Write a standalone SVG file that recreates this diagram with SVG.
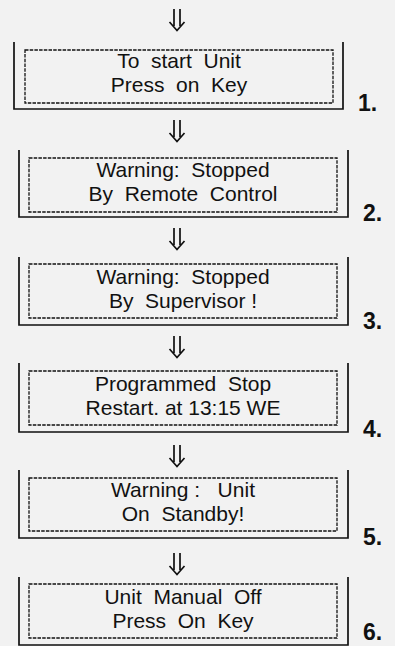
<svg xmlns="http://www.w3.org/2000/svg" width="395" height="646" viewBox="0 0 395 646">
<style>
.bg{fill:#f2f2f2}
.frame{fill:none;stroke:#111;stroke-width:1.7}
.inner{fill:none;stroke:#111;stroke-width:1.3;stroke-dasharray:3.5 1.2}
.t{font-family:"Liberation Sans",Arial,sans-serif;font-size:21px;fill:#111;text-anchor:middle}
.n{font-family:"Liberation Sans",Arial,sans-serif;font-size:23px;font-weight:bold;fill:#111}
.arr{fill:none;stroke:#111;stroke-width:1.7}
</style>
<defs>
<g id="dar">
<path class="arr" d="M-3,0 V17 M3,0 V17 M-7.5,13 L0,21.5 L7.5,13"/>
</g>
</defs>
<rect class="bg" x="0" y="0" width="395" height="646"/>
<g id="connectors">
<use href="#dar" x="177" y="9"/>
<use href="#dar" x="177" y="120"/>
<use href="#dar" x="177" y="228"/>
<use href="#dar" x="177" y="336"/>
<use href="#dar" x="177" y="445"/>
<use href="#dar" x="177" y="553"/>
</g>
<g id="node1">
<path class="frame" d="M14,42 V109 H343 V42"/>
<rect class="inner" x="25" y="50" width="308" height="53"/>
<text class="t" x="179" y="68" xml:space="preserve">To  start  Unit</text>
<text class="t" x="179" y="92" xml:space="preserve">Press  on  Key</text>
<text class="n" x="358" y="111">1.</text>
</g>
<g id="node2">
<path class="frame" d="M19,150 V217 H348 V150"/>
<rect class="inner" x="29" y="158" width="308" height="54"/>
<text class="t" x="183" y="177" xml:space="preserve">Warning:  Stopped</text>
<text class="t" x="183" y="201" xml:space="preserve">By  Remote  Control</text>
<text class="n" x="363" y="221">2.</text>
</g>
<g id="node3">
<path class="frame" d="M19,257 V325 H348 V257"/>
<rect class="inner" x="29" y="264" width="308" height="54"/>
<text class="t" x="183" y="284" xml:space="preserve">Warning:  Stopped</text>
<text class="t" x="183" y="308" xml:space="preserve">By  Supervisor !</text>
<text class="n" x="363" y="329">3.</text>
</g>
<g id="node4">
<path class="frame" d="M19,363 V432 H348 V363"/>
<rect class="inner" x="29" y="371" width="308" height="54"/>
<text class="t" x="183" y="391" xml:space="preserve">Programmed  Stop</text>
<text class="t" x="183" y="415" xml:space="preserve">Restart. at 13:15 WE</text>
<text class="n" x="363" y="437">4.</text>
</g>
<g id="node5">
<path class="frame" d="M19,470 V538 H348 V470"/>
<rect class="inner" x="29" y="478" width="308" height="53"/>
<text class="t" x="183" y="497" xml:space="preserve">Warning :   Unit</text>
<text class="t" x="183" y="521" xml:space="preserve">On  Standby!</text>
<text class="n" x="363" y="545">5.</text>
</g>
<g id="node6">
<path class="frame" d="M19,577 V645 H348 V577"/>
<rect class="inner" x="29" y="584" width="308" height="54"/>
<text class="t" x="183" y="604" xml:space="preserve">Unit  Manual  Off</text>
<text class="t" x="183" y="628" xml:space="preserve">Press  On  Key</text>
<text class="n" x="363" y="640">6.</text>
</g>
</svg>
